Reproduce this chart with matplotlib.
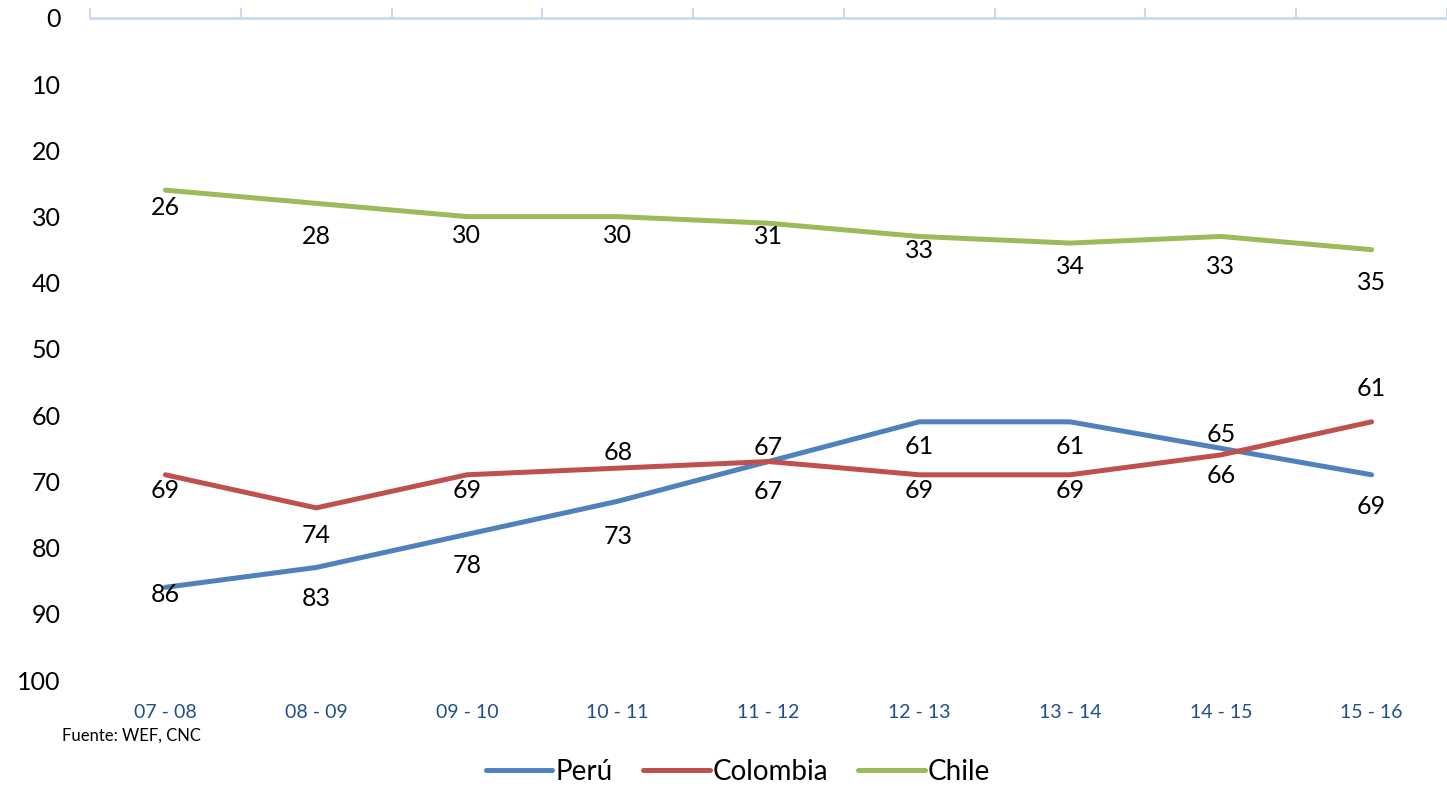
import numpy as np
import matplotlib.pyplot as plt

plt.rcParams['font.family'] = ['Lato', 'DejaVu Sans']

# datos
periodos = ["07 - 08", "08 - 09", "09 - 10", "10 - 11", "11 - 12",
            "12 - 13", "13 - 14", "14 - 15", "15 - 16"]
peru = [86, 83, 78, 73, 67, 61, 61, 65, 69]
colombia = [69, 74, 69, 68, 67, 69, 69, 66, 61]
chile = [26, 28, 30, 30, 31, 33, 34, 33, 35]

# desplazamiento de etiquetas en pixeles (positivo = abajo)
off_peru = [7, 31, 31, 35, 30, 25, 25, -14, 32]
off_col = [16, 28, 16, -16, -14, 16, 16, 21, -33]
off_chile = [17, 33, 19, 19, 13, 14, 23, 30, 33]

fig = plt.figure(figsize=(14.47, 7.86), dpi=100)
ax = fig.add_axes([90 / 1447, 1 - 680 / 786, 1 - 90 / 1447, (680 - 18) / 786])

x = np.arange(len(periodos))
series = [(peru, "Perú", "#4F81BD", off_peru),
          (colombia, "Colombia", "#C0504D", off_col),
          (chile, "Chile", "#9BBB59", off_chile)]
for vals, name, col, offs in series:
    ax.plot(x, vals, color=col, lw=3.6, label=name, solid_capstyle='round')
    for xi, v, o in zip(x, vals, offs):
        ax.annotate(str(v), (xi, v), xytext=(0, -o), textcoords='offset pixels',
                    ha='center', va='center', fontsize=18, color='black')

ax.set_xlim(-0.5, len(periodos) - 0.5)
ax.set_ylim(100, 0)
ax.set_yticks(range(0, 101, 10))
ax.set_xticks(x)
ax.set_xticklabels(periodos, color='#1F4E8C', fontsize=14)
ax.set_xticks(np.arange(-0.5, len(periodos)), minor=True)
ax.tick_params(axis='x', which='major', length=0, pad=17)
ax.tick_params(axis='x', which='minor', top=True, bottom=False, length=7,
               color='#C9D9EF', width=1.5, direction='out')
ax.tick_params(axis='y', length=0, labelsize=18, pad=21)
for s in ['left', 'right', 'bottom']:
    ax.spines[s].set_visible(False)
ax.spines['top'].set_color('#C9D9EF')
ax.spines['top'].set_linewidth(2)

fig.text(62 / 1447, 1 - 736 / 786, "Fuente: WEF, CNC", fontsize=12, va='center')

fig.legend(loc='center', bbox_to_anchor=(0.51, 1 - 772 / 786), ncol=3,
           frameon=False, fontsize=20, handlelength=2.4, handletextpad=0.1,
           columnspacing=1.1)

fig.savefig("out.png", dpi=100)
